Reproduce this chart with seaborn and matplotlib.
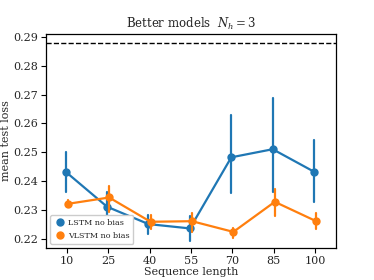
import seaborn as sns
import numpy as np
import pandas as pd
import matplotlib
matplotlib.use("Agg")
import matplotlib.pyplot as plt
from matplotlib.lines import Line2D

seq_len = [10, 25, 40, 55, 70, 85, 100]

# mean test loss and error-bar ends
lstm_mean = [0.2433, 0.2312, 0.2252, 0.2237, 0.2483, 0.2511, 0.2433]
lstm_low = [0.2364, 0.2260, 0.2217, 0.2195, 0.2358, 0.2363, 0.2329]
lstm_high = [0.2503, 0.2363, 0.2285, 0.2280, 0.2630, 0.2689, 0.2542]

vlstm_mean = [0.2322, 0.2344, 0.2260, 0.2262, 0.2225, 0.2329, 0.2262]
vlstm_low = [0.2310, 0.2295, 0.2235, 0.2225, 0.2205, 0.2280, 0.2235]
vlstm_high = [0.2335, 0.2385, 0.2285, 0.2290, 0.2240, 0.2375, 0.2290]

baseline = 0.2879

rows = []
for name, m, lo, hi in [("LSTM no bias", lstm_mean, lstm_low, lstm_high),
                        ("VLSTM no bias", vlstm_mean, vlstm_low, vlstm_high)]:
    for s, a, b, c in zip(seq_len, lo, m, hi):
        for v in (a, b, c):
            rows.append({"seq": s, "loss": v, "model": name})
df = pd.DataFrame(rows)

sns.set_style("ticks")
plt.rcParams["font.family"] = ["DejaVu Serif"]
plt.rcParams["mathtext.fontset"] = "dejavuserif"

fig = plt.figure(figsize=(3.74, 2.8), dpi=100)
ax = fig.add_axes([0.123, 0.114, 0.775, 0.765])

colors = ["#1f77b4", "#ff7f0e"]
# median of (low, mean, high) is the mean; 100% interval spans low..high
sns.pointplot(data=df, x="seq", y="loss", hue="model", estimator="median",
              errorbar=("pi", 100), palette=colors, dodge=True,
              markersize=4.8, linewidth=1.6, err_kws={"linewidth": 1.6}, ax=ax)

ax.axhline(baseline, color="black", linestyle="--", linewidth=1)
ax.set_ylim(0.2169, 0.291)
ax.set_yticks([0.22, 0.23, 0.24, 0.25, 0.26, 0.27, 0.28, 0.29])
ax.set_xlabel("Sequence length", fontsize=8, labelpad=1)
ax.set_ylabel("mean test loss", fontsize=8, labelpad=2)
ax.set_title(r"Better models  $N_h = 3$", fontsize=8.5, pad=4)
ax.tick_params(labelsize=8, length=3.5, width=0.8, pad=2, color="black")
for sp in ax.spines.values():
    sp.set_color("black")
    sp.set_linewidth(0.9)

handles = [Line2D([], [], marker="o", linestyle="none", color=c, markersize=5)
           for c in colors]
ax.legend(handles, ["LSTM no bias", "VLSTM no bias"], loc="lower left",
          fontsize=5.8, handletextpad=0.2, borderpad=0.5, framealpha=1,
          handlelength=1.5, labelspacing=0.6)

fig.savefig("out.png", dpi=100)
